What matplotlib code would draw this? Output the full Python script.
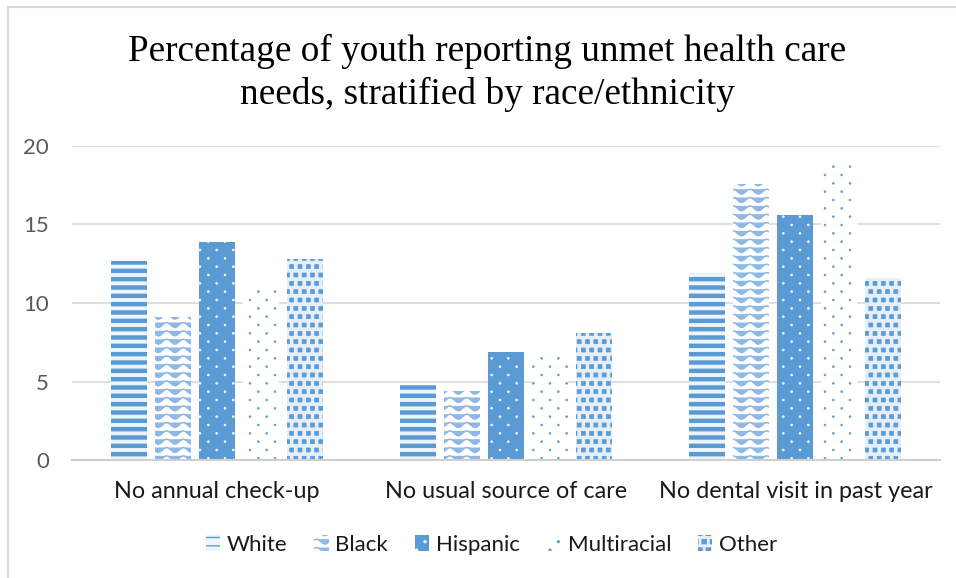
import warnings
warnings.filterwarnings("ignore")
import numpy as np
import matplotlib
matplotlib.use("Agg")
import matplotlib.pyplot as plt
import matplotlib.hatch as mh
from matplotlib.path import Path
from matplotlib.patches import Patch
from matplotlib.lines import Line2D

# ---------------- data ----------------
categories = ["No annual check-up", "No usual source of care", "No dental visit in past year"]
series_names = ["White", "Black", "Hispanic", "Multiracial", "Other"]
white = [12.7, 4.8, 11.9]
black = [9.1, 4.4, 17.6]
hispanic = [13.9, 6.9, 15.6]
multiracial = [10.8, 6.9, 18.9]
other = [12.8, 8.1, 11.6]
yticks = [0, 5, 10, 15, 20]
title = "Percentage of youth reporting unmet health care\nneeds, stratified by race/ethnicity"

BLUE = "#5B9BD5"


# ---------------- custom hatch patterns ----------------
class WaveHatch(mh.HatchPatternBase):
    def __init__(self, hatch, density):
        self.num_lines = int(hatch.count('~') * density)
        self.periods = 6
        self.pts = self.periods * 8 + 1
        self.num_vertices = (self.num_lines + 1) * self.pts if self.num_lines else 0

    def set_vertices_and_codes(self, vertices, codes):
        x = np.linspace(0, 1, self.pts)
        amp = 0.3 / self.num_lines
        y0s = np.linspace(0, 1, self.num_lines + 1)
        for i, y0 in enumerate(y0s):
            s = slice(i * self.pts, (i + 1) * self.pts)
            vertices[s, 0] = x
            vertices[s, 1] = y0 + amp * np.cos(2 * np.pi * self.periods * x)
            codes[i * self.pts] = Path.MOVETO
            codes[i * self.pts + 1:(i + 1) * self.pts] = Path.LINETO


def _shape_grid(centres, shape_v, shape_c, size, vertices, codes):
    n = len(shape_v)
    for k, (cx, cy) in enumerate(centres):
        vertices[k * n:(k + 1) * n] = shape_v * size + (cx, cy)
        codes[k * n:(k + 1) * n] = shape_c


class StaggerDots(mh.HatchPatternBase):
    char = ':'

    def __init__(self, hatch, density):
        self.rows = int(hatch.count(self.char) * density)
        circ = Path.unit_circle()
        self.sv = circ.vertices
        self.sc = circ.codes
        self.centres = []
        if self.rows:
            ncols = self.rows // 2
            for r in range(self.rows + 1):
                y = r / self.rows
                if r % 2 == 0:
                    xs = np.linspace(0, 1, ncols + 1)
                else:
                    xs = np.linspace(0.5 / ncols, 1 - 0.5 / ncols, ncols)
                for x in xs:
                    self.centres.append((x, y))
        self.num_vertices = len(self.centres) * len(self.sv)

    def set_vertices_and_codes(self, vertices, codes):
        _shape_grid(self.centres, self.sv, self.sc, 0.009, vertices, codes)


class SquareConfetti(mh.HatchPatternBase):
    char = ';'

    def __init__(self, hatch, density):
        self.rows = int(hatch.count(self.char) * density)
        self.sv = np.array([[-1, -1], [1, -1], [1, 1], [-1, 1], [-1, -1]], float)
        self.sc = np.array([Path.MOVETO, Path.LINETO, Path.LINETO, Path.LINETO, Path.CLOSEPOLY],
                           dtype=Path.code_type)
        self.centres = []
        if self.rows:
            n = self.rows
            for r in range(n + 1):
                y = r / n
                if r % 2 == 0:
                    xs = np.linspace(0, 1, n + 1)
                else:
                    xs = np.linspace(0.5 / n, 1 - 0.5 / n, n)
                for x in xs:
                    self.centres.append((x, y))
        self.num_vertices = len(self.centres) * len(self.sv)

    def set_vertices_and_codes(self, vertices, codes):
        _shape_grid(self.centres, self.sv, self.sc, 0.02, vertices, codes)


mh._hatch_types.extend([WaveHatch, StaggerDots, SquareConfetti])

# style per series: (facecolor, hatch, hatchcolor, hatch linewidth)
styles = {
    "White": ("#EEF4FB", "--", BLUE, 3.2),
    "Black": ("white", "~~", "#8DB9E6", 1.1),
    "Hispanic": (BLUE, "::", "white", 0.5),
    "Multiracial": ("white", "::", BLUE, 0.5),
    "Other": ("#E6EFF9", ";;", BLUE, 0.5),
}

plt.rcParams['font.family'] = ['Lato', 'DejaVu Sans']
fig = plt.figure(figsize=(9.56, 5.78), dpi=100)
ax = fig.add_axes([72 / 956, 1 - 460 / 578, 868 / 956, (460 - 146) / 578])

values = [white, black, hispanic, multiracial, other]
x = np.arange(len(categories))
width = 0.124
step = 0.152
offsets = (np.arange(len(series_names)) - 2) * step

for name, vals, off in zip(series_names, values, offsets):
    fc, hatch, hc, hlw = styles[name]
    bars = ax.bar(x + off, vals, width, color=fc, edgecolor=hc, linewidth=0,
                  hatch=hatch, zorder=3)
    for b in bars:
        try:
            b.set_hatch_linewidth(hlw)
        except Exception:
            pass

ax.set_xlim(-0.5, 2.5)
ax.set_ylim(0, 20)
ax.set_yticks(yticks)
ax.set_yticklabels([str(t) for t in yticks])
ax.set_xticks(x)
ax.set_xticklabels(categories)
ax.tick_params(axis='y', length=0, pad=16.5, labelsize=16, labelcolor='#595959')
ax.tick_params(axis='x', length=0, pad=15, labelsize=16.8, labelcolor='#1a1a1a')
ax.grid(axis='y', color='#D9D9D9', linewidth=1.2, zorder=0)
for s in ['top', 'right', 'left']:
    ax.spines[s].set_visible(False)
ax.spines['bottom'].set_color('#D0D0D0')
ax.spines['bottom'].set_linewidth(1.5)
ax.spines['bottom'].set_zorder(4)

fig.text(487 / 956, 1 - 73 / 578, title, ha='center', va='center', fontsize=26.8,
         family=['Liberation Serif', 'DejaVu Serif'], linespacing=1.26)

# legend
handles = []
for name in series_names:
    fc, hatch, hc, hlw = styles[name]
    p = Patch(facecolor=fc, edgecolor=hc, linewidth=0, hatch=hatch)
    try:
        p.set_hatch_linewidth(hlw)
    except Exception:
        pass
    handles.append(p)
leg = fig.legend(handles, series_names, loc='center', bbox_to_anchor=(491.5 / 956, 1 - 545 / 578),
                 ncol=5, frameon=False, fontsize=16, handlelength=0.65, handleheight=0.7,
                 handletextpad=0.3, columnspacing=1.2, borderpad=0, borderaxespad=0)
for t in leg.get_texts():
    t.set_color('#1a1a1a')

# chart border (left and top)
fig.add_artist(Line2D([8 / 956, 8 / 956], [0, 1 - 7 / 578], transform=fig.transFigure,
                      color='#D9D9D9', linewidth=1.5))
fig.add_artist(Line2D([8 / 956, 1], [1 - 7 / 578, 1 - 7 / 578], transform=fig.transFigure,
                      color='#D9D9D9', linewidth=1.5))

fig.savefig("out.png", dpi=100, facecolor='white')
